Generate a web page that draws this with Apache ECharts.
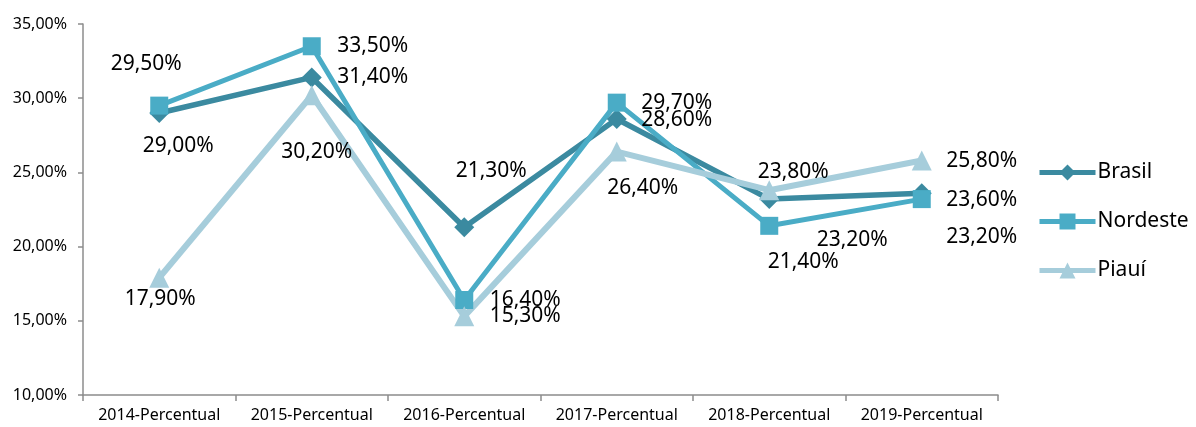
<!DOCTYPE html>
<html>
<head>
<meta charset="utf-8">
<script src="https://cdn.jsdelivr.net/npm/echarts@6/dist/echarts.min.js"></script>
<style>
  html, body { margin: 0; padding: 0; background: #fff; }
  #chart { width: 1196px; height: 427px; }
</style>
</head>
<body>
<div id="chart"></div>
<script>
// categorias e valores (%)
const categories = ['2014-Percentual', '2015-Percentual', '2016-Percentual', '2017-Percentual', '2018-Percentual', '2019-Percentual'];
const brasil = [29.0, 31.4, 21.3, 28.6, 23.2, 23.6];
const nordeste = [29.5, 33.5, 16.4, 29.7, 21.4, 23.2];
const piaui = [17.9, 30.2, 15.3, 26.4, 23.8, 25.8];

// deslocamento dos rótulos (centro do texto em relação ao ponto)
const offsets = {
    Brasil: [[19, 33], [61, 0], [27, -56], [60, 1], [83, 41], [60, 7]],
    Nordeste: [[-13, -42], [61, 0], [61, 0], [60, 0], [34, 36], [60, 38]],
    'Piauí': [[1, 21], [5, 57], [61, 0], [26, 36], [24, -18], [60, 0]]
};

const FONT = '"Noto Sans", "Open Sans", sans-serif';
const fmt = v => v.toFixed(2).replace('.', ',') + '%';

const makeSeries = (name, values, color, symbol, symbolSize, width) => ({
    name,
    type: 'line',
    data: values.map((v, i) => ({
        value: v,
        label: { offset: offsets[name][i] }
    })),
    symbol,
    symbolSize,
    showAllSymbol: true,
    lineStyle: { color, width },
    itemStyle: { color },
    label: {
        show: true,
        position: 'inside',
        align: 'center',
        verticalAlign: 'middle',
        color: '#000',
        fontSize: 21,
        fontFamily: FONT,
        formatter: p => fmt(p.value)
    },
    emphasis: { disabled: true },
    z: 2
});

const chart = echarts.init(document.getElementById('chart'));
chart.setOption({
    animation: false,
    backgroundColor: '#fff',
    grid: { left: 83, right: 198, top: 24, bottom: 32, containLabel: false },
    legend: {
        orient: 'vertical',
        left: 1037,
        top: 162,
        padding: 0,
        itemWidth: 56,
        itemHeight: 20,
        itemGap: 28,
        lineStyle: { width: 5 },
        textStyle: { fontSize: 21, fontFamily: FONT, color: '#000', padding: [0, 0, 0, -3] },
        data: ['Brasil', 'Nordeste', 'Piauí']
    },
    xAxis: {
        type: 'category',
        data: categories,
        boundaryGap: true,
        axisLine: { lineStyle: { color: '#8c8c8c', width: 1.5 } },
        axisTick: { show: true, length: 6, lineStyle: { color: '#8c8c8c', width: 1.5 } },
        axisLabel: { interval: 0, color: '#000', fontSize: 16, fontFamily: FONT, margin: 12 },
        splitLine: { show: false }
    },
    yAxis: {
        type: 'value',
        min: 10,
        max: 35,
        interval: 5,
        axisLine: { show: true, lineStyle: { color: '#8c8c8c', width: 1.5 } },
        axisTick: { show: true, length: 5, lineStyle: { color: '#8c8c8c', width: 1.5 } },
        axisLabel: { color: '#000', fontSize: 16, fontFamily: FONT, margin: 16, formatter: v => fmt(v) },
        splitLine: { show: false }
    },
    series: [
        makeSeries('Brasil', brasil, '#3b8aa0', 'diamond', 20, 5.5),
        makeSeries('Nordeste', nordeste, '#4aacc6', 'rect', 18, 5),
        makeSeries('Piauí', piaui, '#a6cddb', 'triangle', 20, 6)
    ]
});
</script>
</body>
</html>
